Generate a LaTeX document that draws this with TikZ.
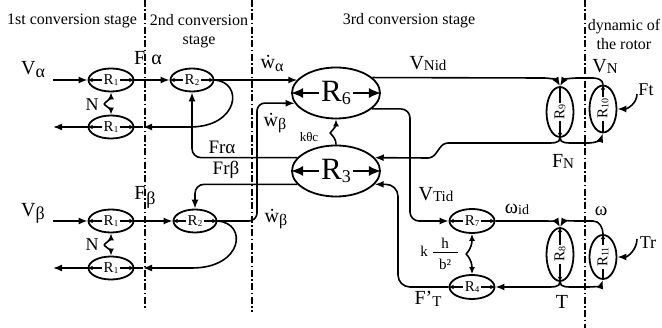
\documentclass[tikz,border=0pt]{standalone}
\usepackage{fontspec}
\setmainfont{Liberation Serif}
\usetikzlibrary{arrows.meta,shapes.geometric}
\newcommand\fs[1]{\fontsize{#1}{#1}\selectfont}
\newcommand\lsub[3]{\raisebox{-#1pt}{\fs{#2}#3}}
\newcommand\wdot{w\char"0307}
\begin{document}
\begin{tikzpicture}[x=1pt,y=-1pt,line width=1.6pt,
  sm/.style={draw,ellipse,line width=1.8pt,inner sep=0pt,minimum width=45pt,minimum height=23pt},
  big/.style={draw,ellipse,line width=1.8pt,inner sep=0pt,minimum width=88pt,minimum height=51pt},
  vt/.style={draw,ellipse,line width=1.8pt,inner sep=0pt,minimum width=27pt,minimum height=#1},
  vt/.default=50pt,
  rt/.style={inner sep=1pt,font=\fs{15}},
  rtv/.style={inner sep=1pt,font=\fs{15},rotate=90},
  bt/.style={inner sep=1.5pt,font=\fs{31}},
  tip/.style={-{Latex[length=9pt,width=7pt]}},
  st/.style={-{Latex[length=5pt,width=4.5pt]}},
  st2/.style={-{Latex[length=7pt,width=6pt]}},
  bgt/.style={-{Latex[length=12pt,width=10pt]}},
  dd/.style={line width=1.4pt,dash pattern=on 7pt off 2.5pt on 1.5pt off 2.5pt},
  title/.style={font=\fontsize{16}{19}\selectfont,align=center,inner sep=0pt},
  lab/.style={font=\fs{20},inner sep=0pt},
  mlab/.style={font=\fs{18},inner sep=0pt}]
\useasboundingbox (0,0) rectangle (662,328);
\fill[white] (0,0) rectangle (662,328);

% stage separators
\draw[dd] (145,0) -- (145,308);
\draw[dd] (252,0) -- (252,312);
\draw[dd] (585,0) -- (585,328);

% titles
\node[title] (t1) at (72,21) {1st conversion stage};
\node[title] (t2) at (199,31) {2nd conversion\\stage};
\node[title] (t3) at (409,21) {3rd conversion stage};
\node[title] (t4) at (624,34) {dynamic of\\the rotor};

% ---------- alpha row ----------
\node[sm] (R1a) at (111,80) {};
\node[rt] (R1aT) at (R1a) {R\lsub{1}{9}{1}};
\draw[st] (R1aT.west) -- (R1a.west); \draw[st] (R1aT.east) -- (R1a.east);
\node[sm,minimum width=43pt] (R2a) at (192,80) {};
\node[rt] (R2aT) at (R2a) {R\lsub{1}{9}{2}};
\draw[st] (R2aT.west) -- (R2a.west); \draw[st] (R2aT.east) -- (R2a.east);
\node[sm] (R1b) at (111,127) {};
\node[rt] (R1bT) at (R1b) {R\lsub{1}{9}{1}};
\draw[st] (R1bT.west) -- (R1b.west); \draw[st] (R1bT.east) -- (R1b.east);

\node[lab] (Va) at (33,70) {V\lsub{3}{18}{α}};
\node[lab] (Fa) at (148,58) {F\hspace{6pt}α};
\node[mlab] (N1) at (92,105) {N};

\coordinate (inA) at (53,80);
\coordinate (outA) at (53,127);
\coordinate (cA) at (190,127);
\coordinate (mA) at (143,127);
\coordinate (nv1) at (104,104);
\draw[tip] (inA) -- (R1a.west);
\draw[tip] (R1a.east) -- (R2a.west);
\draw[tip] (R1b.west) -- (outA);
\draw[tip] (R2a.east) .. controls (244,82) and (239,127) .. (cA) -- (mA);
\draw (mA) -- (R1b.east);
\draw[st2] (nv1) to[out=45,in=-90] (R1a.south);
\draw[st2] (nv1) to[out=-45,in=90] (R1b.north);

% ---------- beta row ----------
\node[sm] (R1c) at (111,221) {};
\node[rt] (R1cT) at (R1c) {R\lsub{1}{9}{1}};
\draw[st] (R1cT.west) -- (R1c.west); \draw[st] (R1cT.east) -- (R1c.east);
\node[sm,minimum width=43pt] (R2c) at (195,221) {};
\node[rt] (R2cT) at (R2c) {R\lsub{1}{9}{2}};
\draw[st] (R2cT.west) -- (R2c.west); \draw[st] (R2cT.east) -- (R2c.east);
\node[sm] (R1d) at (111,268) {};
\node[rt] (R1dT) at (R1d) {R\lsub{1}{9}{1}};
\draw[st] (R1dT.west) -- (R1d.west); \draw[st] (R1dT.east) -- (R1d.east);

\node[lab] (Vb) at (33,213) {V\lsub{3}{18}{β}};
\node[lab] (Fb) at (145,197) {F\hspace{1pt}\lsub{5}{18}{β}};
\node[mlab] (N2) at (92,245) {N};

\coordinate (inB) at (53,221);
\coordinate (outB) at (53,268);
\coordinate (cB) at (192,268);
\coordinate (mB) at (143,268);
\coordinate (nv2) at (104,245);
\draw[tip] (inB) -- (R1c.west);
\draw[tip] (R1c.east) -- (R2c.west);
\draw[tip] (R1d.west) -- (outB);
\draw[tip] (R2c.east) .. controls (248,223) and (243,268) .. (cB) -- (mB);
\draw (mB) -- (R1d.east);
\draw[st2] (nv2) to[out=45,in=-90] (R1c.south);
\draw[st2] (nv2) to[out=-45,in=90] (R1d.north);

% ---------- third stage ----------
\node[big] (R6) at (336,93) {};
\node[bt] (R6T) at (R6) {R\lsub{3}{18}{6}};
\draw[bgt] (R6T.west) -- (R6.west); \draw[bgt] (R6T.east) -- (R6.east);
\node[big] (R3) at (336,171) {};
\node[bt] (R3T) at (R3) {R\lsub{3}{18}{3}};
\draw[bgt] (R3T.west) -- (R3.west); \draw[bgt] (R3T.east) -- (R3.east);

\node[sm,minimum width=45pt,minimum height=24pt] (R7) at (472,221) {};
\node[rt] (R7T) at (R7) {R\lsub{1}{9}{7}};
\draw[st] (R7T.west) -- (R7.west); \draw[st] (R7T.east) -- (R7.east);
\node[sm,minimum width=45pt,minimum height=24pt] (R4) at (472,287) {};
\node[rt] (R4T) at (R4) {R\lsub{1}{9}{4}};
\draw[st] (R4T.west) -- (R4.west); \draw[st] (R4T.east) -- (R4.east);

\node[vt=50pt] (R9) at (560,112) {};
\node[rtv] (R9T) at (R9) {R\lsub{1}{10}{9}};
\draw[st] (R9T.west) -- (R9.south); \draw (R9T.east) -- (R9.north);
\node[vt=53pt] (R8) at (560,254.5) {};
\node[rtv] (R8T) at (R8) {R\lsub{1}{10}{8}};
\draw[st] (R8T.west) -- (R8.south); \draw[st] (R8T.east) -- (R8.north);

% rotor
\node[vt=47pt] (R10) at (603,109) {};
\node[rtv] (R10T) at (R10) {R\lsub{1}{10}{10}};
\draw (R10T.west) -- (R10.south); \draw[st] (R10T.east) -- (R10.north);
\node[vt=44pt] (R11) at (603,257) {};
\node[rtv] (R11T) at (R11) {R\lsub{1}{10}{11}};
\draw (R11T.west) -- (R11.south); \draw[st] (R11T.east) -- (R11.north);

% labels
\node[lab] (wa) at (272,63) {\wdot\lsub{3}{16}{α}};
\node[lab] (wb1) at (275,123) {\wdot\lsub{3}{16}{β}};
\node[lab] (wb2) at (276,219) {\wdot\lsub{3}{16}{β}};
\node[font=\fs{19},inner sep=0pt] (Fra) at (222,147) {Frα};
\node[font=\fs{19},inner sep=0pt] (Frb) at (226,170) {Frβ};
\node[font=\fs{13},inner sep=0pt] (kt) at (309,137) {kθc};
\node[lab] (vnid) at (428,64) {V\lsub{1}{15}{Nid}};
\node[lab] (vn) at (605,66) {V\lsub{1}{15}{N}};
\node[mlab] (ft) at (646,90) {Ft};
\node[lab] (fn) at (563,161) {F\lsub{1}{15}{N}};
\node[lab] (vtid) at (436,195) {V\lsub{1}{15}{Tid}};
\node[inner sep=0pt] (wid) at (517,209) {\fs{20}ω\lsub{1}{14}{id}};
\node[font=\fs{19},inner sep=0pt] (om) at (601,211) {ω};
\node[mlab] (tr) at (648,243) {Tr};
\node[lab] (tt) at (562,302) {T};
\node[lab] (fpt) at (428,299) {F’\lsub{2}{15}{T}};
\node[font=\fs{15},inner sep=0pt] (kk) at (424,251) {k};
\node[font=\fs{15},inner sep=0pt] (hh) at (445,243) {h};
\node[font=\fs{15},inner sep=0pt] (bb) at (445,264) {b²};
\draw[line width=1pt] (433,253) -- (458,253);

% coordinates
\coordinate (vx) at (410,0);
\coordinate (fx) at (398,0);
\coordinate (kv) at (330,133);
\coordinate (kv2) at (466,254);
\coordinate (ftc) at (637,94);
\coordinate (trc) at (637,239);

% connectors in third stage
\draw[tip] (R2a.east) -- (R2a.east -| R6.161);
\draw[tip,rounded corners=8pt] (R2c.east) -- (257,221) -- (257,103) -- (R6.194);
\draw[tip,rounded corners=9pt] (R3.161) -- (R3.161 -| R2a.south) -- (R2a.south);
\draw[tip,rounded corners=9pt] (R3.199) -- (R3.199 -| R2c.north) -- (R2c.north);
\draw[st2] (kv) to[out=45,in=-90] (R6.south);
\draw (kv) to[out=-45,in=90] (R3.north);
\draw[tip] (R6.23) -- (543,78) to[out=0,in=120] (R9.north);
\draw[tip] (R10.north) to[out=90,in=0] (593,78) -- (578,78) to[out=180,in=60] (R9.north);
\draw[tip] (R9.south) to[out=-90,in=0] (546,143) -- (448,143) to[out=180,in=0] (428,158) -- (R3.19);
\draw[tip] (R9.south) to[out=-90,in=180] (574,143) -- (589,143) to[out=0,in=-110] (R10.south);
\draw[tip] (ftc) to[out=-90,in=0] (R10.east);
\draw[tip,rounded corners=9pt] (R6.-24) -- (R6.-24 -| vx) -- (vx |- R7.west) -- (R7.west);
\draw[tip,rounded corners=12pt] (R4.west) -- (fx |- R4.west) -- (fx |- R3.-19) -- (R3.-19);
\draw[st2] (kv2) to[out=45,in=-90] (R7.south);
\draw[st2] (kv2) to[out=-45,in=90] (R4.north);
\draw[tip] (R7.east) -- (545,221) to[out=0,in=120] (R8.north);
\draw[tip] (R11.north) to[out=90,in=0] (593,221) -- (578,221) to[out=180,in=60] (R8.north);
\draw[tip] (R8.south) to[out=-90,in=0] (546,287) -- (R4.east);
\draw[tip] (R8.south) to[out=-90,in=180] (574,287) -- (589,287) to[out=0,in=-110] (R11.south);
\draw[tip] (trc) to[out=-90,in=0] (R11.east);
\end{tikzpicture}
\end{document}
